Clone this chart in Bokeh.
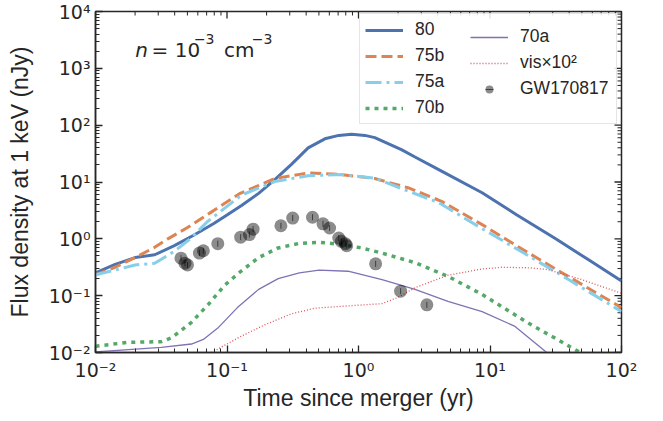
from bokeh.plotting import figure
from bokeh.models import (FixedTicker, CustomJSTickFormatter, Legend,
                          LegendItem, Label, ColumnDataSource, Range1d)
from bokeh.embed import file_html
from bokeh.resources import INLINE

# ---------------- data (time in yr, flux density in nJy) ----------------
t_80 = [0.01, 0.0141, 0.0200, 0.0282, 0.0398, 0.0562, 0.0794, 0.1, 0.129, 0.174,
        0.231, 0.309, 0.414, 0.555, 0.708, 0.885, 1.12, 1.33, 2.12, 2.69, 4.28,
        8.71, 15.8, 31.6, 56.2, 100]
f_80 = [0.251, 0.355, 0.468, 0.525, 0.759, 1.17, 1.86, 2.63, 3.85, 6.31,
        11.0, 20.4, 39.8, 57.5, 66.1, 69.2, 66.1, 60.3, 37.2, 27.5, 15.5,
        6.46, 2.69, 1.0, 0.427, 0.182]

t_75b = [0.01, 0.0141, 0.0200, 0.0282, 0.0355, 0.0501, 0.0759, 0.126, 0.231, 0.417,
         0.743, 1.33, 2.38, 4.28, 8.71, 17.8, 39.8, 100]
f_75b = [0.234, 0.316, 0.468, 0.708, 1.00, 1.58, 2.95, 6.31, 11.5, 14.5,
         13.5, 11.5, 7.94, 4.57, 1.78, 0.646, 0.214, 0.0617]

t_75a = [0.01, 0.0141, 0.0200, 0.0282, 0.0398, 0.0525, 0.0708, 0.129, 0.231, 0.414,
         0.743, 1.33, 2.38, 4.05, 8.71, 17.8, 39.8, 100]
f_75a = [0.234, 0.282, 0.347, 0.372, 0.603, 1.00, 2.00, 5.89, 10.2, 12.9,
         13.5, 11.7, 6.92, 4.37, 1.51, 0.575, 0.191, 0.0525]

t_70b = [0.01, 0.0178, 0.0316, 0.0380, 0.0537, 0.0724, 0.0955, 0.126, 0.174, 0.245,
         0.355, 0.501, 0.741, 1.05, 1.51, 2.69, 4.79, 8.71, 19.5, 46.8, 79.4]
f_70b = [0.0129, 0.0151, 0.0155, 0.0182, 0.0339, 0.0708, 0.151, 0.263, 0.468, 0.692,
         0.832, 0.871, 0.794, 0.692, 0.562, 0.380, 0.219, 0.105, 0.0331, 0.0105, 0.00501]

t_70a = [0.01, 0.0178, 0.0316, 0.0537, 0.0661, 0.0851, 0.120, 0.174, 0.245, 0.355,
         0.501, 0.832, 1.51, 2.69, 4.79, 8.71, 15.5, 26.3, 39.8]
f_70a = [0.0102, 0.0112, 0.0123, 0.0141, 0.0170, 0.0269, 0.0617, 0.129, 0.200, 0.251,
         0.282, 0.269, 0.191, 0.129, 0.0794, 0.0525, 0.0288, 0.0105, 0.00501]

t_vis = [0.0631, 0.0794, 0.129, 0.195, 0.309, 0.468, 0.832, 1.51, 2.00, 2.69,
         4.79, 8.71, 12.3, 20.0, 27.5, 50.1, 100]
f_vis = [0.00794, 0.0105, 0.0195, 0.0309, 0.0479, 0.0603, 0.0661, 0.0724, 0.0933, 0.138,
         0.229, 0.295, 0.316, 0.309, 0.288, 0.191, 0.110]

t_obs = [0.0447, 0.0479, 0.0501, 0.0617, 0.0661, 0.0851, 0.127, 0.148, 0.158, 0.257,
         0.316, 0.447, 0.537, 0.603, 0.708, 0.741, 0.794, 0.813, 1.35, 2.09, 3.31]
f_obs = [0.457, 0.372, 0.347, 0.562, 0.617, 0.822, 1.07, 1.19, 1.48, 1.70,
         2.32, 2.40, 1.84, 1.55, 1.03, 0.904, 0.822, 0.759, 0.363, 0.120, 0.069]

x_major = [0.01, 0.1, 1, 10, 100]
y_major = [0.01, 0.1, 1, 10, 100, 1000, 10000]
X_MIN, X_MAX = 0.01, 100
Y_MIN, Y_MAX = 0.01, 10000

# ---------------- styling ----------------
SANS = "Liberation Sans"
MATH = "DejaVu Sans"
TXT = "#262626"
AX = "#262626"

p = figure(frame_width=526, frame_height=341, x_axis_type="log", y_axis_type="log",
           x_range=Range1d(X_MIN, X_MAX), y_range=Range1d(Y_MIN, Y_MAX),
           output_backend="svg", toolbar_location=None,
           min_border_left=95, min_border_right=20, min_border_top=11, min_border_bottom=54)
p.grid.visible = False
p.outline_line_color = AX
p.outline_line_width = 1.5
p.background_fill_color = "white"
p.border_fill_color = "white"

def minor_of(majors):
    out = []
    for m in majors[:-1]:
        out += [m * k for k in range(2, 10)]
    return out

fmt = CustomJSTickFormatter(code="""
const sup = {"-": "\u207b", "0": "\u2070", "1": "\u00b9", "2": "\u00b2", "3": "\u00b3",
             "4": "\u2074", "5": "\u2075", "6": "\u2076", "7": "\u2077", "8": "\u2078", "9": "\u2079"};
const e = Math.round(Math.log10(tick));
return "10" + String(e).split("").map(c => sup[c]).join("");
""")

for ax, majors in ((p.xaxis[0], x_major), (p.yaxis[0], y_major)):
    ax.ticker = FixedTicker(ticks=majors, minor_ticks=minor_of(majors))
    ax.formatter = fmt
    ax.axis_line_color = AX
    ax.axis_line_width = 1.5
    ax.major_tick_line_color = AX
    ax.minor_tick_line_color = AX
    ax.major_tick_line_width = 1.3
    ax.minor_tick_line_width = 1.0
    ax.major_tick_in = 7
    ax.major_tick_out = 0
    ax.minor_tick_in = 4
    ax.minor_tick_out = 0
    ax.major_label_text_font = MATH
    ax.major_label_text_font_size = "19px"
    ax.major_label_text_color = TXT
    ax.axis_label_text_font = SANS
    ax.axis_label_text_font_size = "23px"
    ax.axis_label_text_font_style = "normal"
    ax.axis_label_text_color = TXT

p.xaxis[0].axis_label = "Time since merger (yr)"
p.yaxis[0].axis_label = "Flux density at 1 keV (nJy)"
p.xaxis[0].major_label_standoff = 6
p.yaxis[0].major_label_standoff = 5
p.xaxis[0].axis_label_standoff = 1
p.yaxis[0].axis_label_standoff = 13

# inward ticks on the top and right spines (drawn as clipped dash markers)
x_minor = minor_of(x_major)
y_minor = minor_of(y_major)
p.scatter(x_major, [Y_MAX] * len(x_major), marker="dash", angle=1.5708, size=14,
          line_color=AX, line_width=1.3)
p.scatter(x_minor, [Y_MAX] * len(x_minor), marker="dash", angle=1.5708, size=8,
          line_color=AX, line_width=1.0)
p.scatter([X_MAX] * len(y_major), y_major, marker="dash", size=14,
          line_color=AX, line_width=1.3)
p.scatter([X_MAX] * len(y_minor), y_minor, marker="dash", size=8,
          line_color=AX, line_width=1.0)

# ---------------- curves ----------------
r80 = p.line(t_80, f_80, line_color="#4c72b0", line_width=3)
r75b = p.line(t_75b, f_75b, line_color="#dd8452", line_width=3, line_dash="11 5")
r75a = p.line(t_75a, f_75a, line_color="#87ceeb", line_width=3, line_dash="16 5 3 5")
r70b = p.line(t_70b, f_70b, line_color="#55a868", line_width=3.5, line_dash="4 5")
r70a = p.line(t_70a, f_70a, line_color="#8172b3", line_width=1.3)
rvis = p.line(t_vis, f_vis, line_color="#d9545a", line_width=1.3, line_dash="1 2")

src = ColumnDataSource(dict(t=t_obs, f=f_obs))
robs = p.scatter("t", "f", source=src, size=13, fill_color="black", fill_alpha=0.45,
                 line_color=None)
rerr = p.scatter("t", "f", source=src, marker="dash", angle=1.5708, size=6,
                 line_color="black", line_alpha=0.55, line_width=1)

# ---------------- legend (two columns in one framed box) ----------------
def make_legend(items, loc, framed, label_width):
    lg = Legend(items=items, location=loc, orientation="vertical")
    lg.padding = 5
    lg.spacing = 5
    lg.glyph_width = 38
    lg.glyph_height = 20
    lg.label_height = 20
    lg.label_width = label_width
    lg.label_standoff = 12
    lg.label_text_font = SANS
    lg.label_text_font_size = "17.5px"
    lg.label_text_color = TXT
    if framed:
        lg.border_line_color = "#cccccc"
        lg.border_line_width = 1
        lg.background_fill_color = "white"
        lg.background_fill_alpha = 0.85
    else:
        lg.border_line_color = None
        lg.background_fill_alpha = 0.0
    return lg

# locations: lower-left corner of each legend box, in px from the frame's lower-left
leg1 = make_legend([
    LegendItem(label="80", renderers=[r80]),
    LegendItem(label="75b", renderers=[r75b]),
    LegendItem(label="75a", renderers=[r75a]),
    LegendItem(label="70b", renderers=[r70b]),
], (264, 228), True, 196)
leg2 = make_legend([
    LegendItem(label="70a", renderers=[r70a]),
    LegendItem(label="vis\u00d710\u00b2", renderers=[rvis]),
    LegendItem(label="GW170817", renderers=[robs, rerr]),
], (375, 253), False, 80)
p.add_layout(leg1)
p.add_layout(leg2)

# ---------------- annotation: n = 10^-3 cm^-3 ----------------
ann = dict(text_font=MATH, text_color=TXT, text_baseline="alphabetic")
p.add_layout(Label(x=0.0201, y=2140, text="n", text_font_style="italic",
                   text_font_size="20px", **ann))
p.add_layout(Label(x=0.0267, y=2140, text="= 10", text_font_size="20px", **ann))
p.add_layout(Label(x=0.0560, y=3300, text="\u22123", text_font_size="14px", **ann))
p.add_layout(Label(x=0.0950, y=2140, text="cm", text_font_size="20px", **ann))
p.add_layout(Label(x=0.1540, y=3300, text="\u22123", text_font_size="14px", **ann))

open("out.html", "w").write(file_html(p, INLINE))
